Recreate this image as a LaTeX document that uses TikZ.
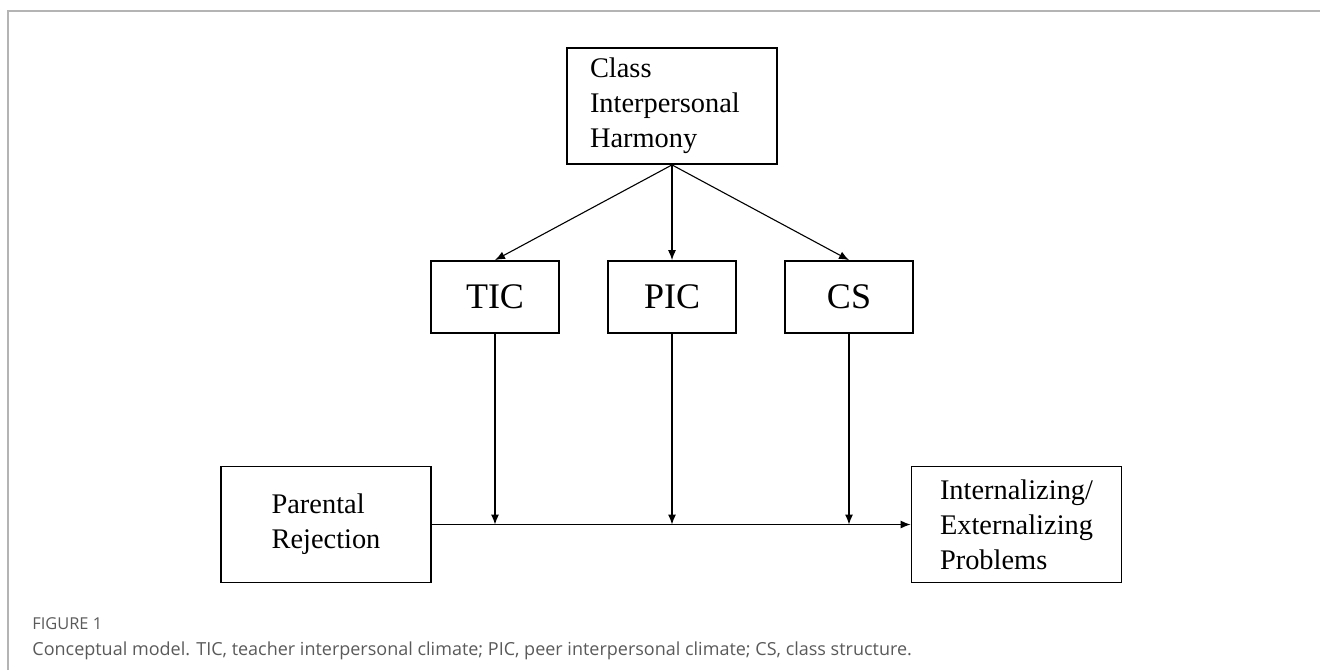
\documentclass[tikz,border=0pt]{standalone}
\usepackage{fontspec}
\setmainfont{Liberation Serif}
\newfontfamily\capfont{Open Sans}
\usetikzlibrary{arrows.meta,positioning}
\definecolor{framegray}{HTML}{B4B4B4}
\definecolor{capgray}{HTML}{5A5A5A}
\tikzset{
  box/.style={draw, line width=0.9pt, inner sep=0pt, align=left},
  bigbox/.style={box, minimum width=105pt, minimum height=58pt, font=\fontsize{14.2}{17.6}\selectfont},
  smallbox/.style={box, minimum width=64pt, minimum height=36pt, font=\fontsize{18}{21}\selectfont},
  link/.style={line width=0.55pt, -{Latex[length=5pt,width=4pt]}},
}
\begin{document}
\begin{tikzpicture}[x=0.5pt,y=-0.5pt]
  \useasboundingbox (0,0) rectangle (1320,670);
  % frame
  \draw[framegray, line width=0.8pt] (8,670) -- (8,11) -- (1320,11);

  % moderator on top
  \node[bigbox, text width=82pt] (cih) at (672,106) {Class\\Interpersonal\\Harmony};

  % the three class climates
  \node[smallbox] (tic) at (495,297) {TIC};
  \node[smallbox] (pic) at (672,297) {PIC};
  \node[smallbox] (cs) at (849,297) {CS};

  % predictor and outcome
  \node[bigbox] (pr) at (326,524.5) {Parental\\Rejection};
  \node[bigbox] (iep) at (1016.5,524.5) {Internalizing/\\Externalizing\\Problems};

  % where the climates meet the main path
  \coordinate (mtic) at (tic.south |- pr.east);
  \coordinate (mpic) at (pic.south |- pr.east);
  \coordinate (mcs) at (cs.south |- pr.east);

  % arrows
  \draw[link] (cih.south) -- (tic.north);
  \draw[link] (cih.south) -- (pic.north);
  \draw[link] (cih.south) -- (cs.north);
  \draw[link] (pr.east) -- (iep.west);
  \draw[link] (tic.south) -- (mtic);
  \draw[link] (pic.south) -- (mpic);
  \draw[link] (cs.south) -- (mcs);

  % caption
  \node[anchor=base west, inner sep=0pt, text=capgray, font=\capfont\fontsize{8.2}{10}\selectfont] (fig) at (32,629) {FIGURE 1};
  \node[anchor=base west, inner sep=0pt, text=capgray, font=\capfont\fontsize{9}{11}\selectfont] (cap) at (32,655) {Conceptual model. TIC, teacher interpersonal climate; PIC, peer interpersonal climate; CS, class structure.};
\end{tikzpicture}
\end{document}
